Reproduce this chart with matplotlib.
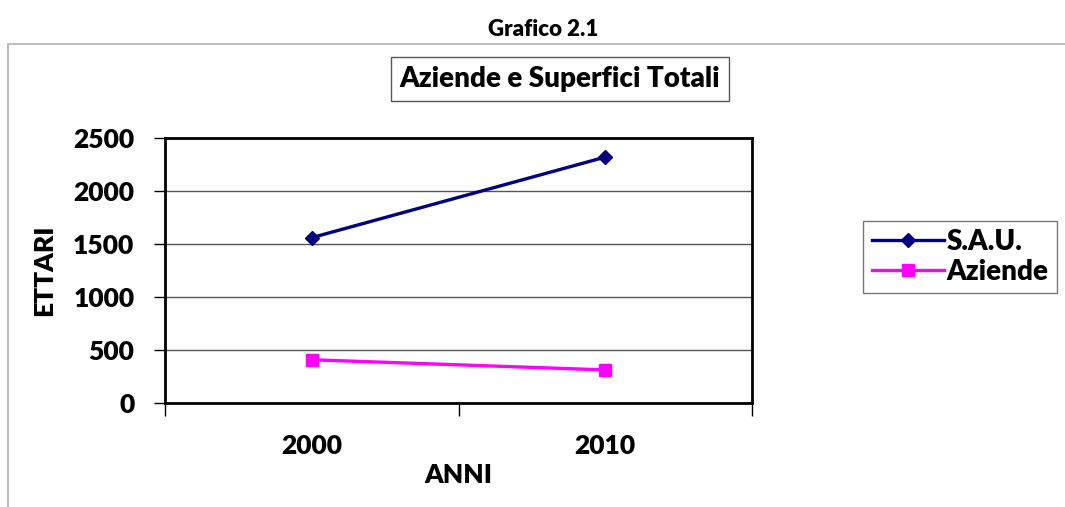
import matplotlib
matplotlib.use("Agg")
import matplotlib.pyplot as plt
from matplotlib.patches import Rectangle
from matplotlib.ticker import FixedLocator, NullFormatter

years = ["2000", "2010"]
sau = [1560, 2320]
aziende = [408, 312]
yticks = [0, 500, 1000, 1500, 2000, 2500]

plt.rcParams['font.family'] = ['Lato', 'DejaVu Sans']
W8 = 'heavy'
plt.rcParams['font.weight'] = W8

W, H = 1065, 507
fig = plt.figure(figsize=(W/100, H/100), dpi=100)

# outer chart border
fig.patches.append(Rectangle((8/W, -0.05), 1.2, (H-44)/H + 0.05, transform=fig.transFigure,
                             fill=False, edgecolor='#b0b0b0', linewidth=1.2))

fig.text(543/W, 1-29/H, "Grafico 2.1", ha='center', va='center', fontsize=16, fontweight=W8)

fig.text(560/W, 1-79/H, "Aziende e Superfici Totali", ha='center', va='center', fontsize=20,
         fontweight=W8,
         bbox=dict(boxstyle='square,pad=0.32', facecolor='white', edgecolor='#555555', linewidth=1))

ax = fig.add_axes([165/W, 1-403/H, (752-165)/W, (403-138)/H])
x = list(range(len(years)))
ax.plot(x, sau, color='#000080', marker='D', markersize=7, linewidth=2.4, label='S.A.U.')
ax.plot(x, aziende, color='#ff00ff', marker='s', markersize=8, linewidth=2.4, label='Aziende')

ax.set_xlim(-0.5, len(years)-0.5)
ax.set_ylim(0, 2500)
ax.set_yticks(yticks)
ax.set_yticklabels([str(v) for v in yticks], fontsize=19, fontweight=W8)
ax.xaxis.set_major_locator(FixedLocator([-0.5, 0.5, 1.5]))
ax.xaxis.set_major_formatter(NullFormatter())
ax.xaxis.set_minor_locator(FixedLocator(x))
ax.set_xticklabels(years, minor=True, fontsize=19, fontweight=W8)
ax.tick_params(axis='x', which='minor', length=0, pad=22)
ax.tick_params(axis='x', which='major', length=9, width=1, direction='out')
ax.tick_params(axis='y', length=8, width=1, direction='out', pad=14)
ax.grid(axis='y', color='#555555', linewidth=1)
ax.set_axisbelow(True)
for s in ax.spines.values():
    s.set_linewidth(2)
    s.set_color('black')

ax.set_xlabel("ANNI", fontsize=19, fontweight=W8, labelpad=4)
ax.set_ylabel("ETTARI", fontsize=19, fontweight=W8, labelpad=12)

leg = fig.legend(loc='center', bbox_to_anchor=(960/W, 1-257/H), frameon=True,
                 fancybox=False, edgecolor='#555555', handlelength=2.6, handletextpad=0.1,
                 borderpad=0.3, labelspacing=0.15, prop={'size': 20, 'weight': W8})
leg.get_frame().set_linewidth(1)

fig.savefig("out.png", dpi=100)
